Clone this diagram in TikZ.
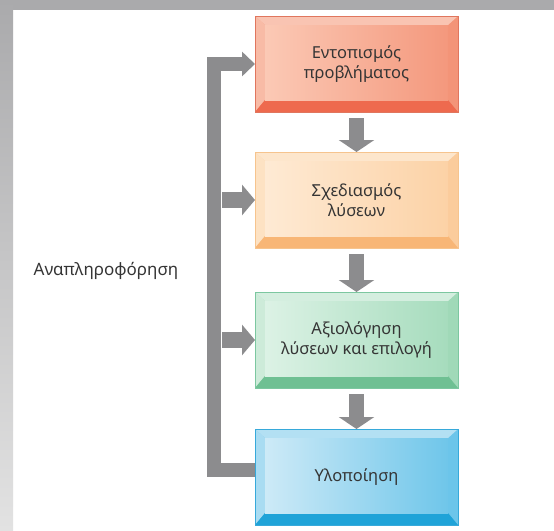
\documentclass[tikz,border=0pt]{standalone}
\usepackage{fontspec}
\setmainfont{Noto Sans}
\usetikzlibrary{arrows.meta,calc}

% text and connector colours
\definecolor{txt}{HTML}{353535}
\definecolor{arrgray}{HTML}{8C8C8E}
\definecolor{bandgray}{HTML}{AAAAAC}
\definecolor{bandlight}{HTML}{E2E2E2}

% red stage
\definecolor{rdedge}{HTML}{E0765E}
\definecolor{rdtop}{HTML}{F9C4B2}
\definecolor{rdleft}{HTML}{F8BBA6}
\definecolor{rdright}{HTML}{F39478}
\definecolor{rdbottom}{HTML}{EE6A4E}
\definecolor{rdinl}{HTML}{FBC9B5}
\definecolor{rdinr}{HTML}{F4987D}
% peach stage
\definecolor{pcedge}{HTML}{F6C48E}
\definecolor{pctop}{HTML}{FDE6CC}
\definecolor{pcleft}{HTML}{FDE2C3}
\definecolor{pcright}{HTML}{FBCC9C}
\definecolor{pcbottom}{HTML}{F8B676}
\definecolor{pcinl}{HTML}{FEEAD4}
\definecolor{pcinr}{HTML}{FCD2A6}
% green stage
\definecolor{gredge}{HTML}{7CC7A0}
\definecolor{grtop}{HTML}{D4EEDF}
\definecolor{grleft}{HTML}{CDEBD9}
\definecolor{grright}{HTML}{A0D9B8}
\definecolor{grbottom}{HTML}{6FC093}
\definecolor{grinl}{HTML}{DCF2E5}
\definecolor{grinr}{HTML}{A6DCBD}
% blue stage
\definecolor{bledge}{HTML}{37A9DA}
\definecolor{bltop}{HTML}{B3E0F3}
\definecolor{blleft}{HTML}{A9DCF2}
\definecolor{blright}{HTML}{6CC5EA}
\definecolor{blbottom}{HTML}{1FA3D8}
\definecolor{blinl}{HTML}{CDEAF7}
\definecolor{blinr}{HTML}{6FC6EA}

\tikzset{
  stage/.style={rectangle, inner sep=0pt, outer sep=0pt,
    minimum width=203pt, minimum height=96pt,
    draw=#1edge, line width=0.8pt, align=center, text=txt,
    font=\fontsize{16.5}{20}\selectfont,
    path picture={
      \coordinate (sw) at (path picture bounding box.south west);
      \coordinate (ne) at (path picture bounding box.north east);
      \coordinate (nw) at (sw |- ne);
      \coordinate (se) at (ne |- sw);
      \fill[#1right] (sw) rectangle (ne);
      \fill[#1top] (nw) -- (ne) -- ($(ne)+(-10pt,-9pt)$) -- ($(nw)+(10pt,-9pt)$) -- cycle;
      \fill[#1left] (nw) -- ($(nw)+(10pt,-9pt)$) -- ($(sw)+(10pt,12pt)$) -- (sw) -- cycle;
      \fill[#1bottom] (sw) -- ($(sw)+(10pt,12pt)$) -- ($(se)+(-10pt,12pt)$) -- (se) -- cycle;
      \shade[left color=#1inl, right color=#1inr] ($(sw)+(10pt,12pt)$) rectangle ($(ne)+(-10pt,-9pt)$);
    }},
  downarr/.style={draw=arrgray, line width=15pt,
    -{Triangle[width=35pt,length=12pt]}, shorten <=6pt},
  sidearr/.style={draw=arrgray, line width=16pt,
    -{Triangle[width=30pt,length=13pt]}},
  feedback/.style={draw=arrgray, line width=14pt, line join=miter,
    -{Triangle[width=24pt,length=13pt]}},
  fblabel/.style={text=txt, font=\fontsize{17}{20}\selectfont},
}

\begin{document}
\begin{tikzpicture}[x=1pt, y=-1pt]
  % page and frame bands
  \useasboundingbox (0,0) rectangle (554,530);
  \fill[white] (0,0) rectangle (554,530);
  \fill[bandgray] (0,0) rectangle (554,10);
  \shade[top color=bandgray, bottom color=bandlight] (0,0) rectangle (13,530);

  % stages
  \node[stage=rd] (b1) at (356.5,64)  {Εντοπισμός\\προβλήματος};
  \node[stage=pc] (b2) at (356.5,200) {Σχεδιασμός\\λύσεων};
  \node[stage=gr] (b3) at (356.5,340) {Αξιολόγηση\\λύσεων και επιλογή};
  \node[stage=bl] (b4) at (356.5,477) {Υλοποίηση};

  % feedback label
  \node[fblabel] (lbl) at (106,271) {Αναπληροφόρηση};

  % downward flow
  \draw[downarr] (b1.south) -- (b2.north);
  \draw[downarr] (b2.south) -- (b3.north);
  \draw[downarr] (b3.south) -- (b4.north);

  % feedback loop
  \coordinate (fbx) at (213.5,0);
  \coordinate (fbr) at (222,0);
  \draw[feedback] ([yshift=7pt]b4.west) -| (b1.west -| fbx) -- (b1.west);
  \draw[sidearr] (b2.west -| fbr) -- (b2.west);
  \draw[sidearr] (b3.west -| fbr) -- (b3.west);
\end{tikzpicture}
\end{document}
